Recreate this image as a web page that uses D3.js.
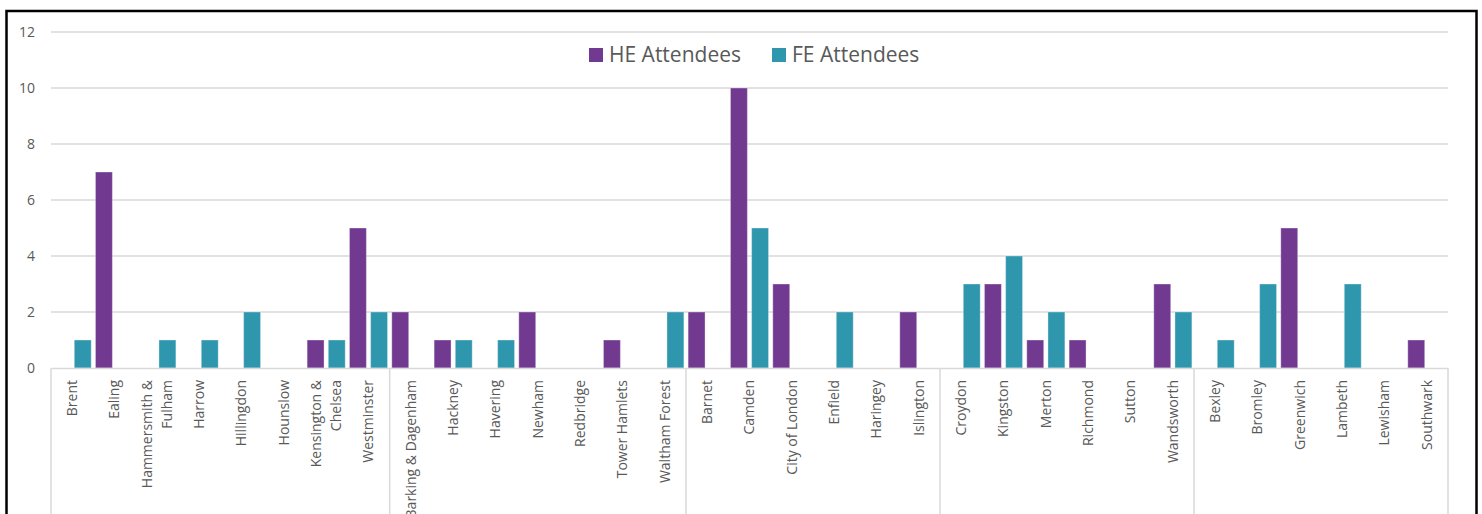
<!DOCTYPE html>
<html>
<head>
<meta charset="utf-8">
<script src="https://cdn.jsdelivr.net/npm/d3@7"></script>
<style>
  body { margin: 0; background: #fff; }
  svg { display: block; font-family: "Open Sans", sans-serif; }
</style>
</head>
<body>
<svg id="chart" width="1482" height="514"></svg>
<script>
// data
const boroughs = [
  "Brent", "Ealing", "Hammersmith & Fulham", "Harrow", "Hillingdon", "Hounslow", "Kensington & Chelsea", "Westminster",
  "Barking & Dagenham", "Hackney", "Havering", "Newham", "Redbridge", "Tower Hamlets", "Waltham Forest",
  "Barnet", "Camden", "City of London", "Enfield", "Haringey", "Islington",
  "Croydon", "Kingston", "Merton", "Richmond", "Sutton", "Wandsworth",
  "Bexley", "Bromley", "Greenwich", "Lambeth", "Lewisham", "Southwark"
];
const regionSizes = [8, 7, 6, 6, 6];
const heAttendees = [0, 7, 0, 0, 0, 0, 1, 5,  2, 1, 0, 2, 0, 1, 0,  2, 10, 3, 0, 0, 2,  0, 3, 1, 1, 0, 3,  0, 0, 5, 0, 0, 1];
const feAttendees = [1, 0, 1, 1, 2, 0, 1, 2,  0, 1, 1, 0, 0, 0, 2,  0, 5, 0, 2, 0, 0,  3, 4, 2, 0, 0, 2,  1, 3, 0, 3, 0, 0];
const seriesNames = ["HE Attendees", "FE Attendees"];
const seriesColors = ["#71398f", "#2e96ad"];
const yTicks = [0, 2, 4, 6, 8, 10, 12];
const wrappedLabels = {
  "Hammersmith & Fulham": ["Hammersmith &", "Fulham"],
  "Kensington & Chelsea": ["Kensington &", "Chelsea"]
};

/* layout */
const W = 1482, H = 514;
const plot = { left: 51, right: 1448, top: 32, bottom: 368 };
const textColor = "#595959", gridColor = "#d9d9d9";

const svg = d3.select("#chart");

const x0 = d3.scaleBand().domain(boroughs).range([plot.left, plot.right]).padding(0);
const x1 = d3.scaleBand().domain(seriesNames).range([0, x0.bandwidth()]).paddingInner(0.2).paddingOuter(0.1);
const y = d3.scaleLinear().domain([0, 12]).range([plot.bottom, plot.top]);
const color = d3.scaleOrdinal().domain(seriesNames).range(seriesColors);

// gridlines
svg.append("g").selectAll("line")
  .data(yTicks.filter(d => d > 0))
  .join("line")
  .attr("x1", plot.left).attr("x2", plot.right)
  .attr("y1", d => y(d)).attr("y2", d => y(d))
  .attr("stroke", gridColor).attr("stroke-width", 1.5);

// y axis
const yAxis = svg.append("g")
  .attr("transform", `translate(${plot.left},0)`)
  .call(d3.axisLeft(y).tickValues(yTicks).tickSize(0).tickPadding(16));
yAxis.select(".domain").remove();
yAxis.selectAll("text")
  .attr("fill", textColor)
  .style("font-size", "14px")
  .style("font-family", "'Open Sans', sans-serif");

// bars
const rows = boroughs.map((b, i) => ({ borough: b, values: [heAttendees[i], feAttendees[i]] }));
svg.append("g").selectAll("g")
  .data(rows)
  .join("g")
  .attr("transform", d => `translate(${x0(d.borough)},0)`)
  .selectAll("rect")
  .data(d => d.values.map((v, k) => ({ key: seriesNames[k], value: v })).filter(d => d.value > 0))
  .join("rect")
  .attr("x", d => x1(d.key))
  .attr("width", x1.bandwidth())
  .attr("y", d => y(d.value))
  .attr("height", d => y(0) - y(d.value))
  .attr("fill", d => color(d.key))
  .attr("stroke", "rgba(255,255,255,0.35)")
  .attr("stroke-width", 1);

// x axis (category level)
const xAxis = svg.append("g")
  .attr("transform", `translate(0,${plot.bottom})`)
  .call(d3.axisBottom(x0).tickSize(0).tickPadding(0));
xAxis.select(".domain").attr("stroke", gridColor).attr("stroke-width", 1.5);
xAxis.selectAll("text").each(function(d) {
  const lines = wrappedLabels[d] || [d];
  const t = d3.select(this)
    .text(null)
    .attr("transform", "rotate(-90)")
    .attr("x", -12).attr("y", 0).attr("dy", null)
    .attr("text-anchor", "end")
    .attr("fill", textColor)
    .style("font-size", "14px")
    .style("font-family", "'Open Sans', sans-serif");
  const lh = 20;
  lines.forEach((ln, i) => {
    t.append("tspan")
      .attr("x", -12)
      .attr("y", (i - (lines.length - 1) / 2) * lh)
      .attr("dy", "0.35em")
      .text(ln);
  });
});

// region separators (outer level, unnamed)
const bounds = [0];
regionSizes.forEach(n => bounds.push(bounds[bounds.length - 1] + n));
svg.append("g").selectAll("line")
  .data(bounds)
  .join("line")
  .attr("x1", i => i < boroughs.length ? x0(boroughs[i]) : plot.right)
  .attr("x2", i => i < boroughs.length ? x0(boroughs[i]) : plot.right)
  .attr("y1", plot.bottom).attr("y2", H + 10)
  .attr("stroke", gridColor).attr("stroke-width", 1.5);

// legend
const legend = svg.append("g").attr("transform", "translate(589,48)");
const legX = [0, 183];
seriesNames.forEach((s, i) => {
  const g = legend.append("g").attr("transform", `translate(${legX[i]},0)`);
  g.append("rect").attr("width", 14).attr("height", 14).attr("fill", color(s));
  g.append("text")
    .attr("x", 20).attr("y", 14)
    .attr("fill", textColor)
    .style("font-size", "21px")
    .text(s);
});

// chart frame
svg.append("rect")
  .attr("x", 6.5).attr("y", 11)
  .attr("width", 1470).attr("height", H + 20)
  .attr("fill", "none")
  .attr("stroke", "#000")
  .attr("stroke-width", 2.5);
</script>
</body>
</html>
